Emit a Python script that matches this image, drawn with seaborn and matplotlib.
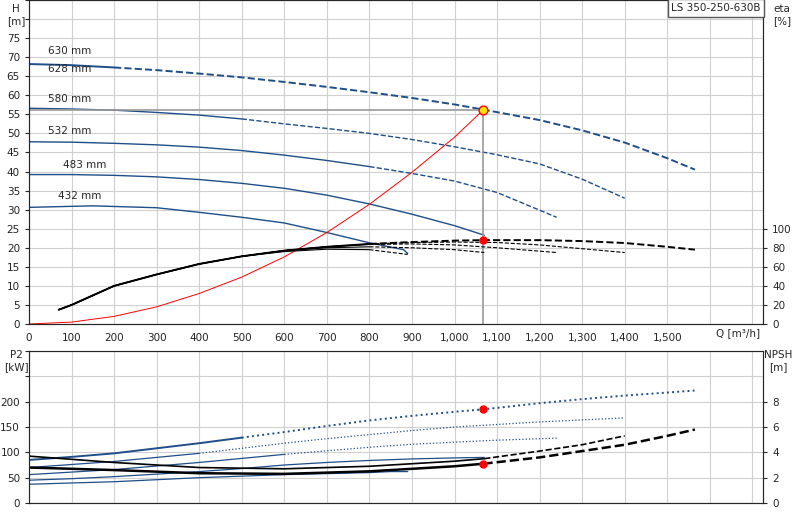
import numpy as np
import matplotlib
matplotlib.use("Agg")
import matplotlib.pyplot as plt
import seaborn as sns

sns.set_style("white")
plt.rcParams['font.family'] = ['DejaVu Sans']
plt.rcParams['font.size'] = 7.5

BLUE = "#1f4e89"

diameters = ["630 mm", "580 mm", "532 mm", "483 mm", "432 mm"]

# H curves (Q m3/h, H m)
q_630 = [0, 100, 200, 300, 400, 500, 600, 700, 800, 900, 1000, 1070, 1200, 1300, 1400, 1500, 1565]
h_630 = [68.2, 67.9, 67.3, 66.6, 65.7, 64.7, 63.5, 62.2, 60.8, 59.3, 57.6, 56.2, 53.5, 50.8, 47.6, 43.5, 40.5]
q_580 = [0, 100, 200, 300, 400, 500, 600, 700, 800, 900, 1000, 1100, 1200, 1300, 1400]
h_580 = [56.6, 56.4, 56.1, 55.5, 54.8, 53.8, 52.5, 51.3, 50.0, 48.4, 46.5, 44.4, 42.0, 38.0, 33.0]
q_532 = [0, 100, 200, 300, 400, 500, 600, 700, 800, 900, 1000, 1100, 1240]
h_532 = [47.8, 47.7, 47.4, 47.0, 46.4, 45.5, 44.3, 42.9, 41.3, 39.5, 37.5, 34.5, 28.0]
q_483 = [0, 100, 200, 300, 400, 500, 600, 700, 800, 900, 1000, 1070]
h_483 = [39.2, 39.2, 39.0, 38.6, 37.9, 36.9, 35.6, 33.8, 31.5, 28.8, 25.8, 23.3]
q_432 = [0, 150, 300, 400, 500, 600, 700, 800, 880, 890]
h_432 = [30.6, 31.0, 30.5, 29.3, 28.0, 26.5, 24.0, 21.3, 19.5, 18.5]
h_split = [240, 570, 800, 1070, 890]

# efficiency curves (eta %)
eq_630 = [70, 100, 200, 300, 400, 500, 600, 700, 800, 900, 1000, 1070, 1200, 1300, 1400, 1500, 1565]
eta_630 = [15, 20, 40, 52, 63, 71, 77, 81, 84, 86, 87.5, 88, 88, 87, 85, 81, 78]
eq_580 = [70, 100, 200, 300, 400, 500, 600, 700, 800, 900, 1000, 1100, 1200, 1300, 1400]
eta_580 = [15, 20, 40, 52, 63, 71, 77, 81, 84, 85.5, 86, 85.5, 83, 79, 75]
eq_532 = [70, 100, 200, 300, 400, 500, 600, 700, 800, 900, 1000, 1100, 1240]
eta_532 = [15, 20, 40, 52, 63, 71, 77, 81, 83.5, 84, 83, 80, 75]
eq_483 = [70, 100, 200, 300, 400, 500, 600, 700, 800, 900, 1000, 1070]
eta_483 = [15, 20, 40, 52, 63, 71, 77, 80, 81, 80, 78, 75]
eq_432 = [70, 100, 200, 300, 400, 500, 600, 700, 800, 890]
eta_432 = [15, 20, 40, 52, 63, 71, 76, 78.5, 78, 73]

# system curve
sys_q = [0, 100, 200, 300, 400, 500, 600, 700, 800, 900, 1000, 1068]
sys_h = [0, 0.5, 2.0, 4.5, 8.0, 12.3, 17.6, 24.0, 31.4, 39.8, 49.0, 56.2]
op_q, op_h, op_eta, op_p2, op_npsh = 1068, 56.2, 88, 185, 3.1

# P2 curves (kW)
p2_630 = [85, 91, 98, 108, 118, 129, 140, 152, 163, 172, 180, 185, 197, 205, 212, 218, 222]
p2_580 = [70, 76, 82, 90, 98, 108, 118, 127, 135, 143, 150, 155, 160, 164, 168]
p2_532 = [56, 61, 66, 73, 80, 88, 96, 103, 110, 116, 120, 124, 128]
p2_483 = [45, 48, 52, 57, 62, 68, 75, 80, 84, 87, 89, 90]
p2_432 = [37, 42, 50, 53, 56, 58, 60, 62, 62, 62]
p2_q_432 = [0, 200, 400, 500, 600, 700, 800, 850, 880, 890]
p2_split = [550, 450, 600, 1070, 890]

# NPSH curves (m)
npsh_q_a = [0, 200, 400, 600, 800, 1000, 1068, 1200, 1300, 1400, 1500, 1565]
npsh_a = [2.8, 2.6, 2.35, 2.3, 2.5, 2.9, 3.1, 3.6, 4.1, 4.6, 5.3, 5.8]
npsh_q_b = [0, 200, 400, 600, 800, 1000, 1070, 1200, 1300, 1400]
npsh_b = [3.7, 3.2, 2.8, 2.7, 2.9, 3.3, 3.5, 4.1, 4.6, 5.3]

h_q = [q_630, q_580, q_532, q_483, q_432]
h_v = [h_630, h_580, h_532, h_483, h_432]
e_q = [eq_630, eq_580, eq_532, eq_483, eq_432]
e_v = [eta_630, eta_580, eta_532, eta_483, eta_432]
p_q = [q_630, q_580, q_532, q_483, p2_q_432]
p_v = [p2_630, p2_580, p2_532, p2_483, p2_432]


def split_line(ax, q, v, split, color, lw=1.0, ls2="--"):
    q = np.array(q, float)
    v = np.array(v, float)
    a = q <= split
    sns.lineplot(x=q[a], y=v[a], ax=ax, color=color, lw=lw, sort=False)
    b = q >= q[a][-1]
    if b.sum() > 1:
        sns.lineplot(x=q[b], y=v[b], ax=ax, color=color, lw=lw, ls=ls2, sort=False)


fig = plt.figure(figsize=(8, 5.2), dpi=100)
ax = fig.add_axes([29 / 800, 1 - 324 / 520, 734 / 800, 324 / 520])
ax2 = fig.add_axes([29 / 800, 1 - 503 / 520, 734 / 800, 152 / 520])

for a in (ax, ax2):
    a.set_xlim(0, 1725)
    a.set_xticks(np.arange(0, 1800, 100))
    a.grid(True, color="#d0d0d0", lw=0.8)
    for s in a.spines.values():
        s.set_color("#555555")
    a.tick_params(direction="out", length=3, colors="#222222")

ax.set_xticklabels([f"{v:,}" if v <= 1500 else "" for v in range(0, 1800, 100)])
ax.set_ylim(0, 85)
ax.set_yticks(np.arange(0, 90, 5))
ax.set_yticklabels([str(v) if v <= 75 else "" for v in range(0, 90, 5)])
ax2.set_xticklabels([])
ax2.set_ylim(0, 300)
ax2.set_yticks(np.arange(0, 350, 50))
ax2.set_yticklabels([str(v) if v <= 200 else "" for v in range(0, 350, 50)])

for i in range(5):
    split_line(ax, h_q[i], h_v[i], h_split[i], BLUE, lw=1.4 if i == 0 else 1.0)

label_pos = [(45, 70.3), (45, 57.8), (45, 49.2), (80, 40.5), (68, 32.3)]
for lab, (x, y) in zip(diameters, label_pos):
    ax.text(x, y, lab, fontsize=7.5, ha="left", va="bottom")
ax.text(45, 65.5, "628 mm", fontsize=7.5, ha="left", va="bottom")

axe = ax.twinx()
axe.set_ylim(0, 340)
axe.set_yticks(np.arange(0, 120, 20))
axe.tick_params(direction="out", length=3)
axe.grid(False)
for i in range(5):
    split_line(axe, e_q[i], e_v[i], 800, "black", lw=1.4 if i == 0 else 0.8)

sns.lineplot(x=sys_q, y=sys_h, ax=ax, color="red", lw=0.7, sort=False)
ax.plot([0, op_q], [op_h, op_h], color="#999999", lw=1.2)
ax.plot([op_q, op_q], [0, op_h], color="#999999", lw=1.2)
ax.scatter([op_q], [op_h], s=40, color="#ffe000", edgecolor="red", zorder=5)
axe.scatter([op_q], [op_eta], s=25, color="red", zorder=5)

ax.text(1718, -1.2, "Q [m³/h]", ha="right", va="top", fontsize=7.5)
fig.text(16 / 800, 1 - 4 / 520, "H\n[m]", ha="center", va="top", fontsize=7.5)
fig.text(782 / 800, 1 - 4 / 520, "eta\n[%]", ha="center", va="top", fontsize=7.5)
fig.text(716 / 800, 1 - 8 / 520, "LS 350-250-630B", ha="center", va="center", fontsize=7.5,
         bbox=dict(facecolor="white", edgecolor="#555555", boxstyle="square,pad=0.35"))

for i in range(5):
    split_line(ax2, p_q[i], p_v[i], p2_split[i], BLUE, lw=1.4 if i == 0 else 0.9, ls2=":")

axn = ax2.twinx()
axn.set_ylim(0, 12)
axn.set_yticks(np.arange(0, 10, 2))
axn.tick_params(direction="out", length=3)
split_line(axn, npsh_q_a, npsh_a, 1068, "black", lw=1.8)
split_line(axn, npsh_q_b, npsh_b, 1070, "black", lw=1.2)
ax2.scatter([op_q], [op_p2], s=25, color="red", zorder=5)
axn.scatter([op_q], [op_npsh], s=25, color="red", zorder=5)
fig.text(16 / 800, 1 - 350 / 520, "P2\n[kW]", ha="center", va="top", fontsize=7.5)
fig.text(778 / 800, 1 - 350 / 520, "NPSH\n[m]", ha="center", va="top", fontsize=7.5)

fig.savefig("out.png", dpi=100)
